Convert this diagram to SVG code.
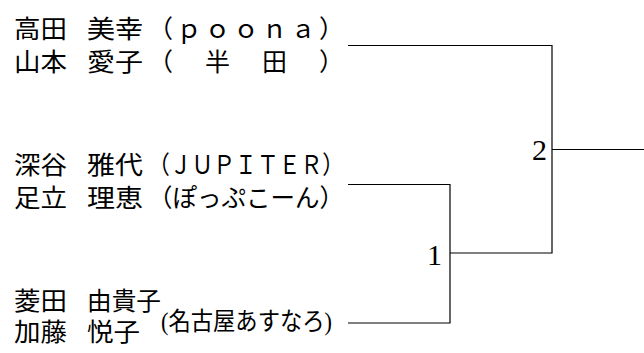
<svg xmlns="http://www.w3.org/2000/svg" width="644" height="353" viewBox="0 0 644 353">
<style>
.t{font-family:"Liberation Serif","Noto Sans CJK JP",serif;font-size:25px;fill:#000}
.n{font-family:"Liberation Serif",serif;font-size:30px;fill:#000}
.c{fill:none;stroke:#000;stroke-width:1.2}
</style>
<rect width="644" height="353" fill="#fff"/>
<g id="team1">
<text class="t" x="14" y="38" textLength="53" lengthAdjust="spacingAndGlyphs">高田</text>
<text class="t" x="87" y="38" textLength="56" lengthAdjust="spacingAndGlyphs">美幸</text>
<text class="t" x="148" y="38" textLength="196" lengthAdjust="spacing">（ｐｏｏｎａ）</text>
<text class="t" x="14" y="71" textLength="53" lengthAdjust="spacingAndGlyphs">山本</text>
<text class="t" x="87" y="71" textLength="56" lengthAdjust="spacingAndGlyphs">愛子</text>
<text class="t" x="148" y="71" textLength="196" lengthAdjust="spacing">（　半　田　）</text>
</g>
<g id="team2">
<text class="t" x="14" y="174" textLength="53" lengthAdjust="spacingAndGlyphs">深谷</text>
<text class="t" x="87" y="174" textLength="56" lengthAdjust="spacingAndGlyphs">雅代</text>
<text class="t" x="148" y="174" textLength="196" lengthAdjust="spacingAndGlyphs">（ＪＵＰＩＴＥＲ）</text>
<text class="t" x="14" y="207" textLength="53" lengthAdjust="spacingAndGlyphs">足立</text>
<text class="t" x="87" y="207" textLength="56" lengthAdjust="spacingAndGlyphs">理恵</text>
<text class="t" x="148" y="207" textLength="196" lengthAdjust="spacingAndGlyphs">（ぽっぷこーん）</text>
</g>
<g id="team3">
<text class="t" x="14" y="310" textLength="53" lengthAdjust="spacingAndGlyphs">菱田</text>
<text class="t" x="87" y="310" textLength="74" lengthAdjust="spacingAndGlyphs">由貴子</text>
<text class="t" x="14" y="341" textLength="53" lengthAdjust="spacingAndGlyphs">加藤</text>
<text class="t" x="87" y="341" textLength="53" lengthAdjust="spacingAndGlyphs">悦子</text>
<text class="t" x="161" y="330" textLength="171" lengthAdjust="spacingAndGlyphs">(名古屋あすなろ)</text>
</g>
<g id="match1">
<text class="n" x="442" y="265" text-anchor="end">1</text>
</g>
<g id="match2">
<text class="n" x="547" y="160" text-anchor="end">2</text>
</g>
<g id="connectors">
<path class="c" d="M348,45.5H552V253H450"/>
<path class="c" d="M348,184.5H450V323H348"/>
<path class="c" d="M552,149.5H644"/>
</g>
</svg>
